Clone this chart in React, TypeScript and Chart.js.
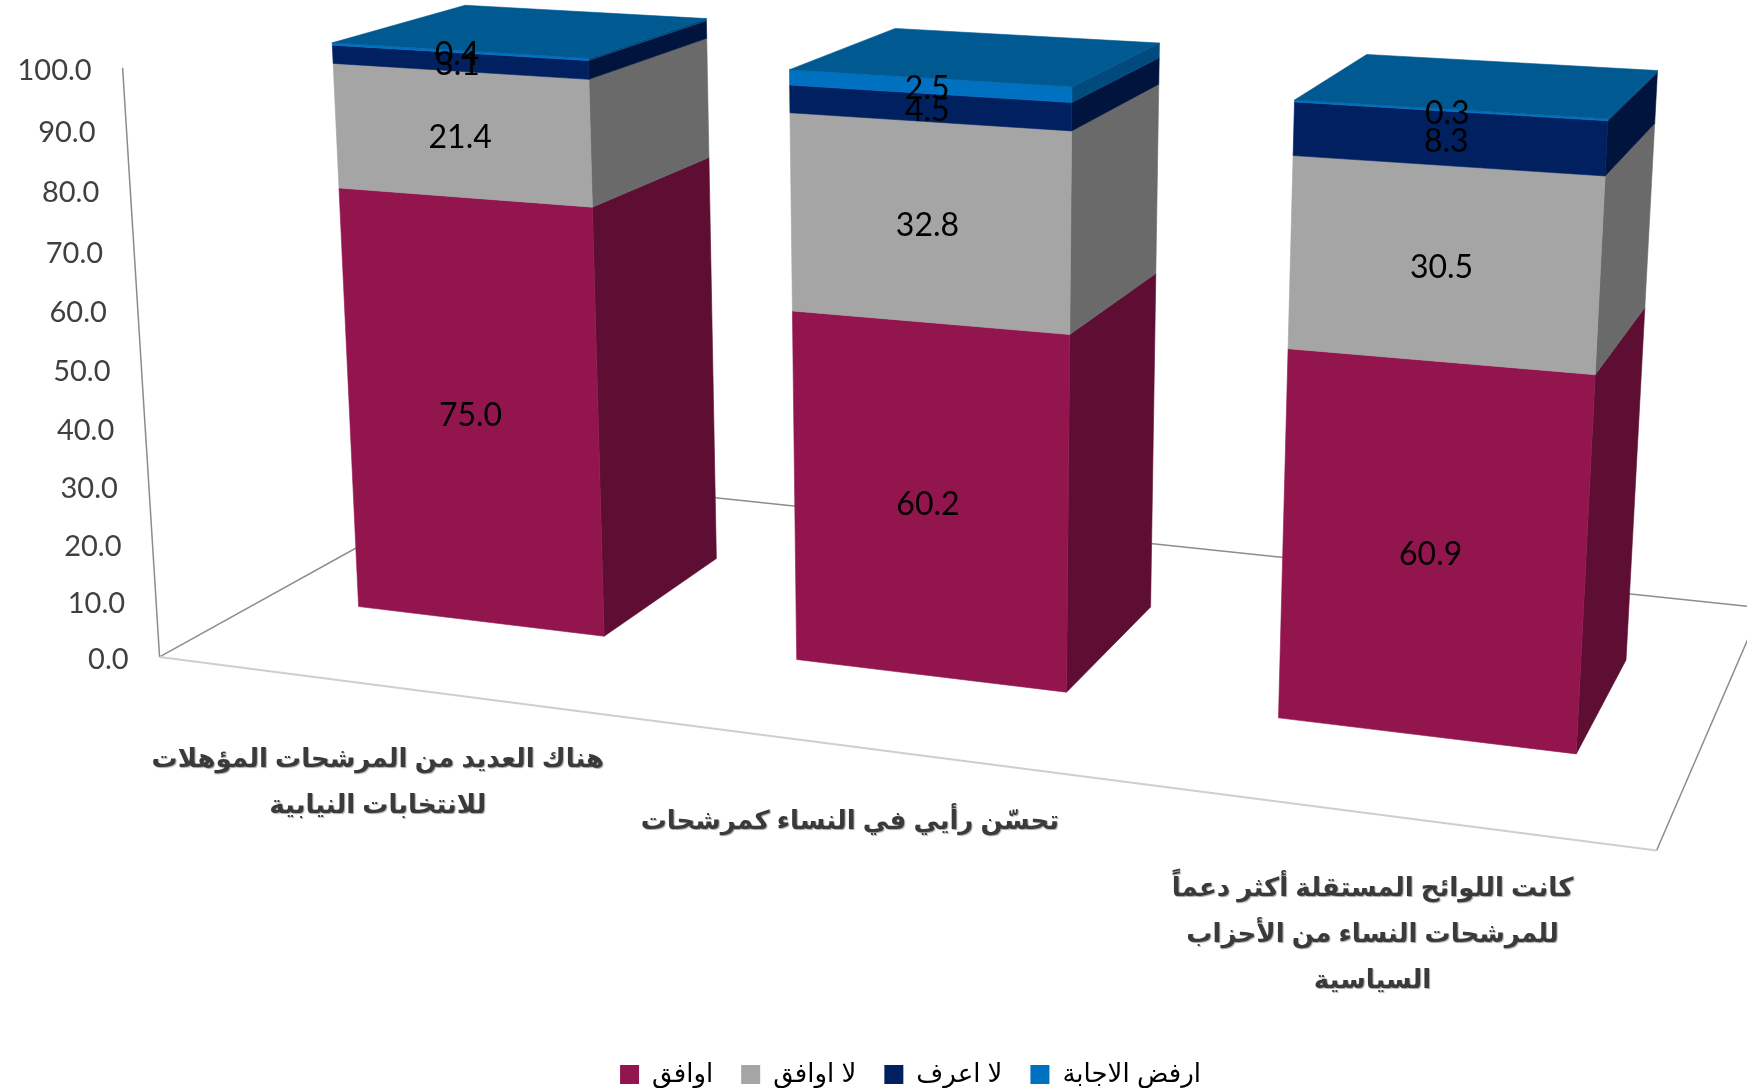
import React, { useEffect, useRef } from "react";
import { Chart, registerables } from "chart.js";
Chart.register(...registerables);

const categories: string[][] = [
  ["هناك العديد من المرشحات المؤهلات", "للانتخابات النيابية"],
  ["تحسّن رأيي في النساء كمرشحات"],
  ["كانت اللوائح المستقلة أكثر دعماً", "للمرشحات النساء من الأحزاب", "السياسية"],
];
const seriesNames = ["اوافق", "لا اوافق", "لا اعرف", "ارفض الاجابة"];
const agree = [75.0, 60.2, 60.9];
const disagree = [21.4, 32.8, 30.5];
const dontKnow = [3.1, 4.5, 8.3];
const refuse = [0.4, 2.5, 0.3];
const frontColors = ["#93154E", "#A5A5A5", "#002060", "#0070C0"];
const sideColors = ["#5E0E33", "#6A6A6A", "#00143E", "#004A7E"];
const topColor = "#005990";
const yTickStep = 10;

// Camera fitted to the reference: maps (plot x 0-1, value 0-1, depth 0-1) to page pixels.
const CAM = [
  [1.261379, -0.042452, 0.422404, 0.159596],
  [0.072605, -0.592108, -0.093462, 0.656959],
  [-0.142213, -0.044593, 0.188739, 1],
];
const BAR_WIDTH = 0.572;
const DEPTH_FRONT = 0.29707;
const DEPTH_BACK = 0.695;

function project(nx: number, ny: number, nz: number): [number, number] {
  const d = CAM[2][0] * nx + CAM[2][1] * ny + CAM[2][2] * nz + CAM[2][3];
  return [
    (1000 * (CAM[0][0] * nx + CAM[0][1] * ny + CAM[0][2] * nz + CAM[0][3])) / d,
    (1000 * (CAM[1][0] * nx + CAM[1][1] * ny + CAM[1][2] * nz + CAM[1][3])) / d,
  ];
}

function poly(ctx: CanvasRenderingContext2D, pts: [number, number][], fill: string) {
  ctx.beginPath();
  pts.forEach((p, i) => (i ? ctx.lineTo(p[0], p[1]) : ctx.moveTo(p[0], p[1])));
  ctx.closePath();
  ctx.fillStyle = fill;
  ctx.strokeStyle = fill;
  ctx.lineWidth = 0.6;
  ctx.fill();
  ctx.stroke();
}

function line(ctx: CanvasRenderingContext2D, a: [number, number], b: [number, number], color: string, width: number) {
  ctx.beginPath();
  ctx.moveTo(a[0], a[1]);
  ctx.lineTo(b[0], b[1]);
  ctx.strokeStyle = color;
  ctx.lineWidth = width;
  ctx.stroke();
}

const perspective = {
  id: "perspective",
  afterLayout(chart: any) {
    // legend sits lower and further right than the default bottom-centre slot
    chart.legend.top = 1033.5;
    chart.legend.left += 74;
  },
  beforeDatasetsDraw(chart: any) {
    const { ctx, chartArea: ca } = chart;
    const xs = chart.scales.x;
    const ys = chart.scales.y;
    const nx = (px: number) => (px - ca.left) / ca.width;
    const ny = (py: number) => ys.getValueForPixel(py) / ys.max;
    ctx.save();

    // floor and value axis
    const fl = project(0, 0, 0), fr = project(1, 0, 0), bl = project(0, 0, 1), br = project(1, 0, 1), up = project(0, 1, 0);
    line(ctx, fl, bl, "#8C8C8C", 1.5);
    line(ctx, bl, br, "#8C8C8C", 1.5);
    line(ctx, fr, br, "#8C8C8C", 1.5);
    line(ctx, fl, up, "#8C8C8C", 1.5);
    line(ctx, fl, fr, "#CFCFCF", 2);

    // value tick labels
    ctx.font = "29px Lato";
    ctx.fillStyle = "#404040";
    ctx.textAlign = "right";
    ctx.textBaseline = "middle";
    ys.ticks.forEach((t: any) => {
      const p = project(0, t.value / ys.max, 0);
      ctx.fillText(t.value.toFixed(1), p[0] - 31, p[1] + 3);
    });

    // category labels below the front edge of the floor
    ctx.save();
    ctx.font = "bold 26px 'Liberation Sans', 'DejaVu Sans'";
    ctx.textAlign = "center";
    ctx.textBaseline = "top";
    ctx.direction = "rtl";
    ctx.fillStyle = "#3A3A3A";
    ctx.shadowColor = "rgba(0,0,0,0.35)";
    ctx.shadowOffsetX = 1;
    ctx.shadowOffsetY = 1;
    ctx.shadowBlur = 1;
    categories.forEach((lines, i) => {
      const p = project(nx(xs.getPixelForValue(i)), 0, 0);
      lines.forEach((txt, k) => ctx.fillText(txt, p[0] - 1, p[1] + 62 + k * 46));
    });
    ctx.restore();

    // bars: each native bar element is projected into the scene
    const labels: [string, number, number][] = [];
    const metas = chart.getSortedVisibleDatasetMetas();
    metas.forEach((meta: any, di: number) => {
      meta.data.forEach((el: any, i: number) => {
        const value = chart.data.datasets[meta.index].data[i];
        const cx = nx(el.x), half = nx(el.x + el.width / 2) - cx;
        const l = cx - half, r = cx + half;
        const y0 = ny(el.base), y1 = ny(el.y);
        poly(ctx, [project(r, y0, DEPTH_FRONT), project(r, y0, DEPTH_BACK), project(r, y1, DEPTH_BACK), project(r, y1, DEPTH_FRONT)], sideColors[di]);
        poly(ctx, [project(l, y0, DEPTH_FRONT), project(r, y0, DEPTH_FRONT), project(r, y1, DEPTH_FRONT), project(l, y1, DEPTH_FRONT)], frontColors[di]);
        if (di === metas.length - 1) {
          poly(ctx, [project(l, y1, DEPTH_FRONT), project(r, y1, DEPTH_FRONT), project(r, y1, DEPTH_BACK), project(l, y1, DEPTH_BACK)], topColor);
        }
        const c = project(cx, (y0 + y1) / 2, DEPTH_FRONT);
        labels.push([value.toFixed(1), c[0] - 1.5, c[1] + 3]);
      });
    });

    // value labels on top of everything
    ctx.font = "32px Lato";
    ctx.fillStyle = "#000000";
    ctx.textAlign = "center";
    ctx.textBaseline = "middle";
    labels.forEach(([t, x, y]) => ctx.fillText(t, x, y));
    ctx.restore();
    return false; // the flat bars are replaced by the projected ones
  },
};

export default function App() {
  const ref = useRef<HTMLCanvasElement>(null);
  useEffect(() => {
    const series = [agree, disagree, dontKnow, refuse];
    const chart = new Chart(ref.current!, {
      type: "bar",
      data: {
        labels: categories as any,
        datasets: series.map((data, i) => ({
          label: seriesNames[i],
          data,
          backgroundColor: frontColors[i],
          barPercentage: BAR_WIDTH,
          categoryPercentage: 1,
        })),
      },
      options: {
        animation: false,
        responsive: false,
        devicePixelRatio: 1,
        scales: {
          x: { stacked: true, display: false },
          y: { stacked: true, display: false, min: 0, max: 100, ticks: { stepSize: yTickStep } },
        },
        plugins: {
          tooltip: { enabled: false },
          legend: {
            position: "bottom",
            labels: {
              boxWidth: 19,
              boxHeight: 19,
              padding: 28,
              color: "#000000",
              font: { size: 26, family: "'Liberation Sans', 'DejaVu Sans'" },
            },
          },
        },
      },
      plugins: [perspective],
    } as any);
    return () => chart.destroy();
  }, []);
  return (
    <div style={{ position: "absolute", left: 0, top: 0, width: 1747, height: 1088, background: "#fff" }}>
      <canvas ref={ref} width={1747} height={1088} style={{ display: "block" }} />
    </div>
  );
}
